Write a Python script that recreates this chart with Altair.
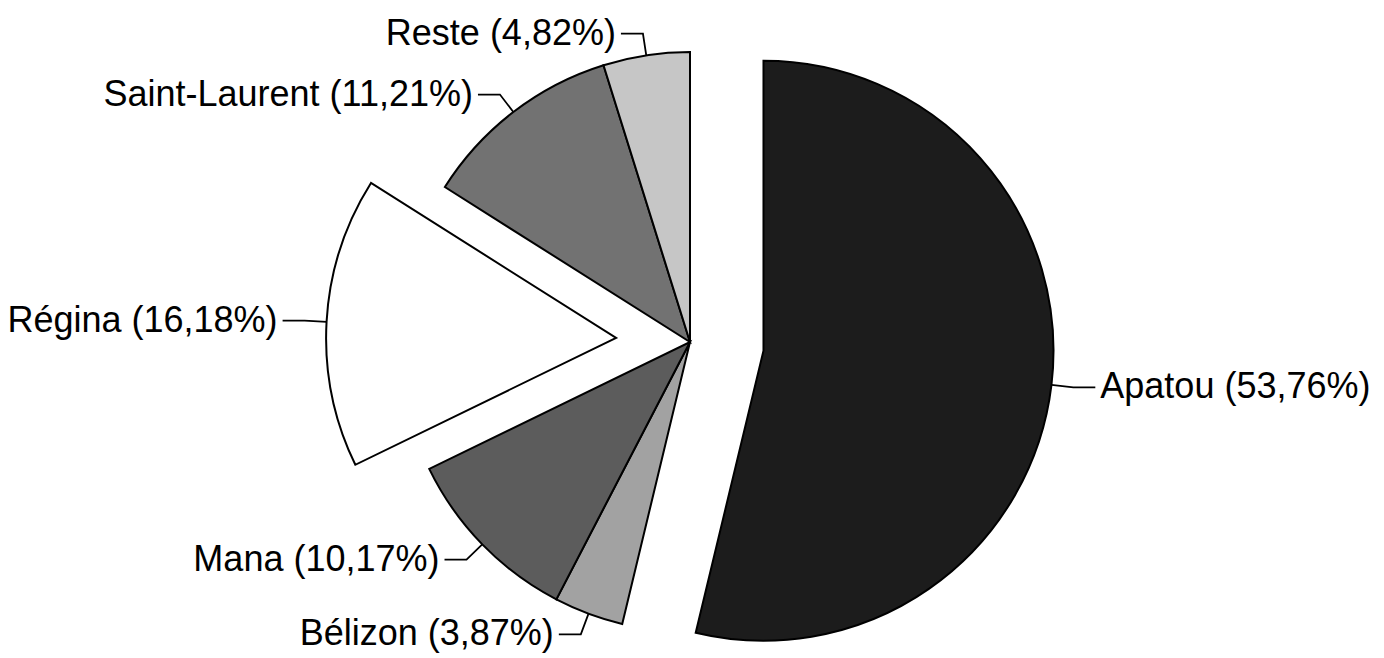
import math
import altair as alt
import pandas as pd

# ---- data ----
names = ["Apatou", "Bélizon", "Mana", "Régina", "Saint-Laurent", "Reste"]
shares = [53.76, 3.87, 10.17, 16.18, 11.21, 4.82]
labels = ["Apatou (53,76%)", "Bélizon (3,87%)", "Mana (10,17%)",
          "Régina (16,18%)", "Saint-Laurent (11,21%)", "Reste (4,82%)"]
exploded = [True, False, False, True, False, False]

# ---- styles / layout ----
shades = ["#1c1c1c", "#a2a2a2", "#5c5c5c", "#ffffff", "#727272", "#c6c6c6"]
W, H = 1384, 658
CX, CY = 690, 342          # pie centre (pixels)
R = 290                    # pie radius
EXPLODE = 74               # explosion distance
ELBOW = 22                 # radial length of leader line
HLEN = 22                  # horizontal length of leader line
GAP = 5                    # gap between leader line and text
FONT = "Liberation Sans"

total = sum(shares)
rows, lines = [], []
acc = 0.0
for name, share, lab, ex in zip(names, shares, labels, exploded):
    start, end = acc, acc + share
    acc = end
    a = 2 * math.pi * (start + end) / 2 / total
    s, c = math.sin(a), math.cos(a)
    off = EXPLODE if ex else 0
    cx, cy = CX + off * s, CY - off * c
    ax, ay = cx + R * s, cy - R * c
    exx, eyy = cx + (R + ELBOW) * s, cy - (R + ELBOW) * c
    side = 1 if s > 0 else -1
    hx = exx + side * HLEN
    rows.append(dict(name=name, start=start, end=end, cx=cx, cy=cy,
                     label=lab, tx=hx + side * GAP, ty=eyy, side=side))
    for i, (px, py) in enumerate([(ax, ay), (exx, eyy), (hx, eyy)]):
        lines.append(dict(name=name, step=i, x=px, y=py))

df = pd.DataFrame(rows)
ldf = pd.DataFrame(lines)

xs = alt.Scale(domain=[0, W], nice=False, zero=False)
ys = alt.Scale(domain=[0, H], nice=False, zero=False, reverse=True)

arcs = alt.Chart(df).mark_arc(radius=R, stroke="black", strokeWidth=2).encode(
    x=alt.X("cx:Q", scale=xs, axis=None),
    y=alt.Y("cy:Q", scale=ys, axis=None),
    theta=alt.Theta("start:Q", scale=alt.Scale(domain=[0, total], range=[0, 2 * math.pi]), stack=None),
    theta2="end:Q",
    color=alt.Color("name:N", scale=alt.Scale(domain=names, range=shades), legend=None),
)

leaders = alt.Chart(ldf).mark_line(color="black", strokeWidth=1.8).encode(
    x=alt.X("x:Q", scale=xs, axis=None),
    y=alt.Y("y:Q", scale=ys, axis=None),
    detail="name:N",
    order="step:O",
)

text_right = alt.Chart(df).transform_filter("datum.side > 0").mark_text(
    align="left", baseline="middle", font=FONT, fontSize=36, color="black"
).encode(
    x=alt.X("tx:Q", scale=xs, axis=None),
    y=alt.Y("ty:Q", scale=ys, axis=None),
    text="label:N",
)

text_left = alt.Chart(df).transform_filter("datum.side < 0").mark_text(
    align="right", baseline="middle", font=FONT, fontSize=36, color="black"
).encode(
    x=alt.X("tx:Q", scale=xs, axis=None),
    y=alt.Y("ty:Q", scale=ys, axis=None),
    text="label:N",
)

chart = alt.layer(arcs, leaders, text_left, text_right).properties(
    width=W, height=H, padding=0, autosize=alt.AutoSizeParams(type="none"),
    background="white",
).configure_view(stroke=None)

chart.save("out.html", embed_options={"renderer": "svg", "actions": False})
